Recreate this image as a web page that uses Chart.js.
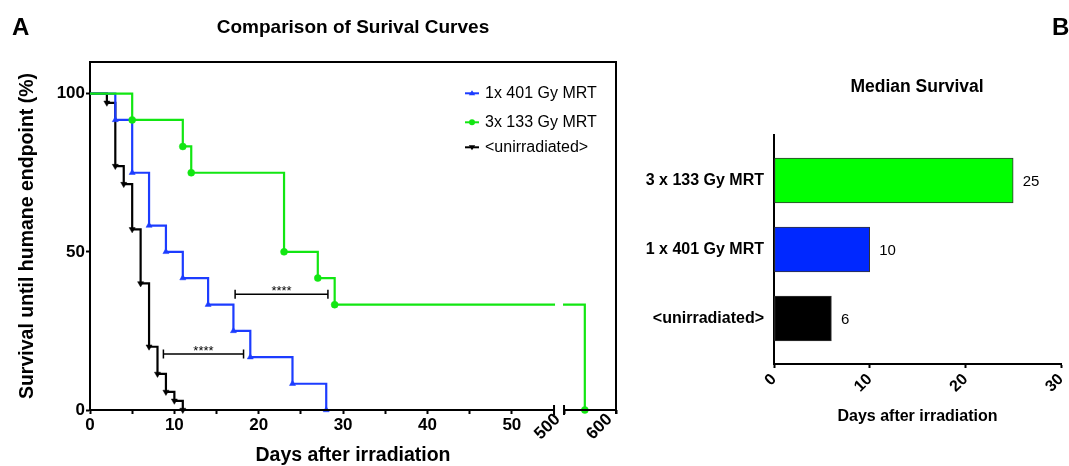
<!DOCTYPE html>
<html>
<head>
<meta charset="utf-8">
<script src="https://cdn.jsdelivr.net/npm/chart.js@4.4.1/dist/chart.umd.min.js"></script>
<style>
html,body{margin:0;padding:0;background:#fff;}
#wrap{position:relative;width:1069px;height:466px;overflow:hidden;font-family:'Liberation Sans',Arial,Helvetica,sans-serif;color:#000;background:#fff;}
.lbl{position:absolute;font-weight:bold;white-space:nowrap;line-height:1;}
.ctr{transform:translateX(-50%);}
#cA{position:absolute;left:0;top:0;}
#cB{position:absolute;left:640px;top:0;}
</style>
</head>
<body>
<div id="wrap">
  <canvas id="cA" width="640" height="466"></canvas>
  <canvas id="cB" width="429" height="466"></canvas>
  <div class="lbl" style="left:12px;top:14.7px;font-size:24px;">A</div>
  <div class="lbl ctr" style="left:353px;top:17px;font-size:19px;">Comparison of Surival Curves</div>
  <div class="lbl ctr" style="left:917px;top:78px;font-size:17.5px;">Median Survival</div>
  <div class="lbl" style="left:1052px;top:14.7px;font-size:24px;">B</div>
</div>
<script>
// ---------- data: panel A (Kaplan-Meier curves) ----------
const seriesNames = ['1x 401 Gy MRT', '3x 133 Gy MRT', '<unirradiated>'];
const daysBlue  = [0, 3, 5, 7, 9, 11, 14, 17, 19, 24, 28];
const survBlue  = [100, 91.7, 75, 58.3, 50, 41.7, 33.3, 25, 16.7, 8.3, 0];
const daysGreen = [0, 5, 11, 12, 23, 27, 29, 540];
const survGreen = [100, 91.7, 83.3, 75, 50, 41.7, 33.3, 0];
const daysCtrl  = [0, 2, 3, 4, 5, 6, 7, 8, 9, 10, 11];
const survCtrl  = [100, 97.1, 77.1, 71.4, 57.1, 40, 20, 11.4, 5.7, 2.9, 0];
const xMajorTicks = [0, 10, 20, 30, 40, 50];
const xMinorTicks = [5, 15, 25, 35, 45];
const xLateTicks  = [500, 600];
const yTicksPct   = [0, 50, 100];
// significance brackets (days from, days to, % level)
const sigFrom = [8.7, 17.2];
const sigTo   = [18.2, 28.2];
const sigAt   = [17.7, 36.6];
const sigText = ['****', '****'];

// ---------- data: panel B (median survival) ----------
const medianGroups = ['3 x 133 Gy MRT', '1 x 401 Gy MRT', '<unirradiated>'];
const medianDays   = [25, 10, 6];
const medianTicks  = [0, 10, 20, 30];

// ---------- styling ----------
const FONT = "'Liberation Sans', Arial, Helvetica, sans-serif";
Chart.defaults.font.family = FONT;
Chart.defaults.color = '#000';
const BLUE_LINE = '#1c3cff', GREEN_LINE = '#12e612', BLACK = '#000000';
const BLUE_BAR = '#0028ff', GREEN_BAR = '#00ff00';

// broken x axis: 0..55 days, then 500..600 days compressed
const SEG1_END = 55, SEG2_START = 500, SEG2_END = 600;
const GAP = 1.185, SEG2_SCALE = 0.0616;
function axisPos(d) { return d <= SEG1_END ? d : SEG1_END + GAP + (d - SEG2_START) * SEG2_SCALE; }
const X_MAX = axisPos(SEG2_END);
const toPts = (xs, ys) => xs.map((d, i) => ({x: axisPos(d), y: ys[i]}));
const hideFirst = c => (c.dataIndex === 0 ? 0 : 3.5);

const panelAPlugin = {
  id: 'panelA',
  afterDatasetsDraw(chart) {
    const {ctx, chartArea: a, scales: {x, y}} = chart;
    const p1 = x.getPixelForValue(axisPos(SEG1_END));
    const p2 = x.getPixelForValue(axisPos(SEG2_START));
    ctx.save();
    // break gap through the plot
    ctx.fillStyle = '#fff';
    ctx.fillRect(p1 + 1, a.top + 2, p2 - p1 - 2, a.bottom - a.top - 3);
    // frame (top + right)
    ctx.strokeStyle = '#000'; ctx.lineWidth = 2;
    ctx.beginPath();
    ctx.moveTo(a.left - 1, a.top); ctx.lineTo(a.right, a.top); ctx.lineTo(a.right, a.bottom + 4);
    ctx.stroke();
    // x axis line with break
    ctx.beginPath();
    ctx.moveTo(a.left - 1, a.bottom); ctx.lineTo(p1, a.bottom);
    ctx.moveTo(p2, a.bottom); ctx.lineTo(a.right + 1, a.bottom);
    ctx.moveTo(p1, a.bottom - 5); ctx.lineTo(p1, a.bottom + 5);
    ctx.moveTo(p2, a.bottom - 5); ctx.lineTo(p2, a.bottom + 5);
    ctx.stroke();
    // significance brackets
    ctx.lineWidth = 1.5;
    ctx.fillStyle = '#000';
    ctx.font = '13px ' + FONT;
    ctx.textAlign = 'center'; ctx.textBaseline = 'alphabetic';
    sigFrom.forEach((f, i) => {
      const xa = x.getPixelForValue(axisPos(f)), xb = x.getPixelForValue(axisPos(sigTo[i]));
      const yy = y.getPixelForValue(sigAt[i]);
      ctx.beginPath();
      ctx.moveTo(xa, yy); ctx.lineTo(xb, yy);
      ctx.moveTo(xa, yy - 4.5); ctx.lineTo(xa, yy + 4.5);
      ctx.moveTo(xb, yy - 4.5); ctx.lineTo(xb, yy + 4.5);
      ctx.stroke();
      ctx.fillText(sigText[i], (xa + xb) / 2, yy + 1);
    });
    // legend
    const rowsY = [93.3, 122.3, 147.3];
    ctx.font = '16px ' + FONT;
    ctx.textAlign = 'left'; ctx.textBaseline = 'middle';
    chart.data.datasets.forEach((ds, i) => {
      const ly = rowsY[i], lx = 465;
      ctx.strokeStyle = ds.borderColor; ctx.fillStyle = ds.borderColor; ctx.lineWidth = 2;
      ctx.beginPath(); ctx.moveTo(lx, ly); ctx.lineTo(lx + 14, ly); ctx.stroke();
      const cx = lx + 7;
      ctx.beginPath();
      if (ds.pointStyle === 'circle') {
        ctx.arc(cx, ly, 3, 0, Math.PI * 2);
      } else if (ds.pointRotation === 180) {
        ctx.moveTo(cx - 3.2, ly - 2); ctx.lineTo(cx + 3.2, ly - 2); ctx.lineTo(cx, ly + 3);
      } else {
        ctx.moveTo(cx - 3.2, ly + 2); ctx.lineTo(cx + 3.2, ly + 2); ctx.lineTo(cx, ly - 3);
      }
      ctx.closePath(); ctx.fill();
      ctx.fillStyle = '#000';
      ctx.fillText(ds.label, lx + 20, ly);
    });
    ctx.restore();
  }
};

new Chart(document.getElementById('cA'), {
  type: 'line',
  data: {
    datasets: [
      {label: seriesNames[0], data: toPts(daysBlue, survBlue), borderColor: BLUE_LINE, backgroundColor: BLUE_LINE,
       pointStyle: 'triangle', order: 1},
      {label: seriesNames[1], data: toPts(daysGreen, survGreen), borderColor: GREEN_LINE, backgroundColor: GREEN_LINE,
       pointStyle: 'circle', order: 0},
      {label: seriesNames[2], data: toPts(daysCtrl, survCtrl), borderColor: BLACK, backgroundColor: BLACK,
       pointStyle: 'triangle', pointRotation: 180, order: 2}
    ].map(d => Object.assign({stepped: 'before', borderWidth: 2.2, fill: false, tension: 0, clip: false,
       pointRadius: hideFirst, pointBorderWidth: 0.5, pointBorderColor: d.borderColor, xAxisID: 'x'}, d))
  },
  options: {
    responsive: false, animation: false, events: [],
    layout: {padding: {left: 0, right: 24, top: 62, bottom: 0}},
    plugins: {legend: {display: false}, tooltip: {enabled: false}},
    scales: {
      x: {
        type: 'linear', position: 'bottom', weight: 1, min: 0, max: X_MAX,
        afterBuildTicks: s => { s.ticks = xMajorTicks.concat(xMinorTicks).sort((a, b) => a - b).map(v => ({value: axisPos(v)})); },
        afterFit: s => { s.height = 56; s.paddingLeft = 0; s.paddingRight = 0; },
        ticks: {autoSkip: false, maxRotation: 0, minRotation: 0, padding: 1,
                font: {size: 17, weight: 'bold'},
                callback: v => (xMajorTicks.includes(Math.round(v)) ? String(Math.round(v)) : '')},
        grid: {display: true, drawOnChartArea: false, drawTicks: true, tickLength: 4, tickWidth: 2, tickColor: '#000'},
        border: {display: false},
        title: {display: true, text: 'Days after irradiation', font: {size: 19.5, weight: 'bold', lineHeight: 1},
                padding: {top: 0, bottom: 1}}
      },
      x2: {
        type: 'linear', position: 'bottom', weight: 0, min: 0, max: X_MAX,
        afterBuildTicks: s => { s.ticks = xLateTicks.map(v => ({value: axisPos(v)})); },
        afterFit: s => { s.height = 0; s.paddingLeft = 0; s.paddingRight = 0; },
        ticks: {autoSkip: false, maxRotation: 45, minRotation: 45, mirror: true, padding: -14, labelOffset: 8,
                font: {size: 17, weight: 'bold'},
                callback: (v, i) => String(xLateTicks[i])},
        grid: {display: true, drawOnChartArea: false, drawTicks: true, tickLength: 4, tickWidth: 2, tickColor: '#000'},
        border: {display: false}
      },
      y: {
        type: 'linear', min: 0, max: 110,
        afterBuildTicks: s => { s.ticks = yTicksPct.map(v => ({value: v})); },
        afterFit: s => { s.width = 90; },
        ticks: {padding: 1, font: {size: 17, weight: 'bold'}},
        grid: {display: true, drawOnChartArea: false, drawTicks: true, tickLength: 4, tickWidth: 2, tickColor: '#000'},
        border: {display: true, width: 2, color: '#000'},
        title: {display: true, text: 'Survival until humane endpoint (%)', font: {size: 19.5, weight: 'bold', lineHeight: 1},
                padding: {top: 17.5, bottom: 0}}
      }
    }
  },
  plugins: [panelAPlugin]
});

// ---------- panel B ----------
const barValuePlugin = {
  id: 'barValues',
  afterDatasetsDraw(chart) {
    const {ctx} = chart;
    const meta = chart.getDatasetMeta(0);
    ctx.save();
    ctx.font = '15px ' + FONT; ctx.fillStyle = '#000';
    ctx.textAlign = 'left'; ctx.textBaseline = 'middle';
    meta.data.forEach((el, i) => ctx.fillText(String(medianDays[i]), el.x + 9.5, el.y + 1));
    ctx.restore();
  }
};

new Chart(document.getElementById('cB'), {
  type: 'bar',
  data: {
    datasets: [{
      data: medianDays.map((v, i) => ({x: v, y: i})),
      backgroundColor: [GREEN_BAR, BLUE_BAR, BLACK],
      borderColor: '#333', borderWidth: 1, borderSkipped: false,
      barThickness: 45
    }]
  },
  options: {
    indexAxis: 'y',
    responsive: false, animation: false, events: [],
    layout: {padding: {left: 0, right: 8, top: 135, bottom: 0}},
    plugins: {legend: {display: false}, tooltip: {enabled: false}},
    scales: {
      y: {
        type: 'linear', reverse: true, min: -0.66, max: 2.66, offset: false, bounds: 'data', grace: 0,
        afterBuildTicks: s => { s.ticks = medianGroups.map((g, i) => ({value: i})); },
        afterFit: s => { s.width = 134; },
        ticks: {padding: 10, font: {size: 16, weight: 'bold'}, callback: (v) => medianGroups[Math.round(v)]},
        grid: {display: false, drawTicks: false, offset: false},
        border: {display: true, width: 2, color: '#000'}
      },
      x: {
        type: 'linear', min: 0, max: 30,
        afterBuildTicks: s => { s.ticks = medianTicks.map(v => ({value: v})); },
        afterFit: s => { s.height = 102; s.paddingLeft = 0; s.paddingRight = 0; },
        ticks: {autoSkip: false, minRotation: 45, maxRotation: 45, padding: 2, font: {size: 16, weight: 'bold'}},
        grid: {display: true, drawOnChartArea: false, drawTicks: true, tickLength: 4, tickWidth: 2, tickColor: '#000'},
        border: {display: true, width: 2, color: '#000'},
        title: {display: true, text: 'Days after irradiation', font: {size: 16, weight: 'bold', lineHeight: 1},
                padding: {top: 0, bottom: 41}}
      }
    }
  },
  plugins: [barValuePlugin]
});
</script>
</body>
</html>
